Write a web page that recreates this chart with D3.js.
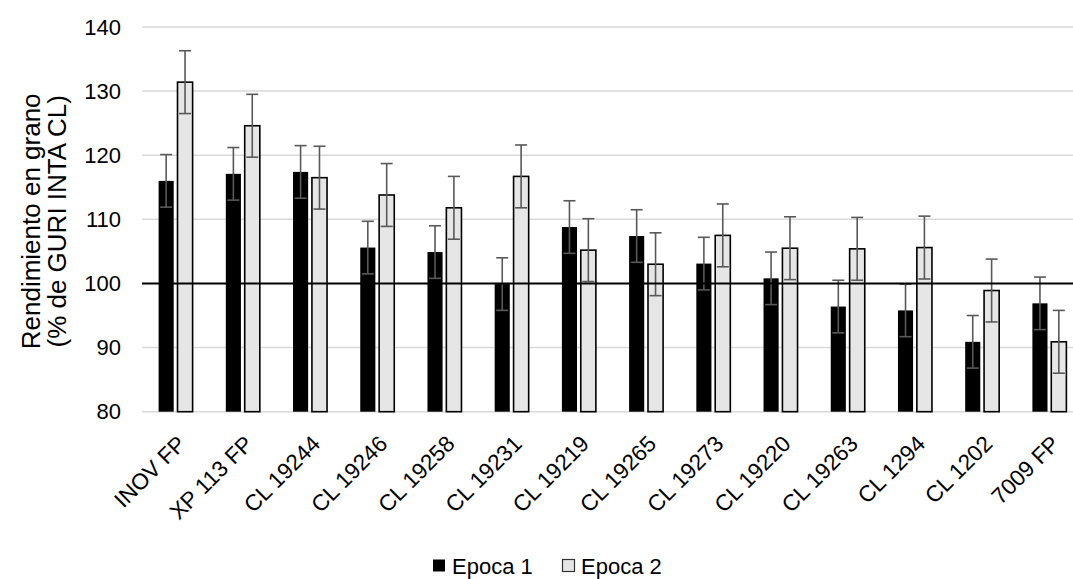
<!DOCTYPE html>
<html>
<head>
<meta charset="utf-8">
<script src="https://cdn.jsdelivr.net/npm/d3@7"></script>
<style>
  body { margin: 0; background: #fff; }
  text { font-family: "Liberation Sans", Arial, sans-serif; fill: #000; }
</style>
</head>
<body>
<div id="chart"></div>
<script>
var categories = ['INOV FP', 'XP 113 FP', 'CL 19244', 'CL 19246', 'CL 19258', 'CL 19231', 'CL 19219',
  'CL 19265', 'CL 19273', 'CL 19220', 'CL 19263', 'CL 1294', 'CL 1202', '7009 FP'];
var epoca1 = [116.0, 117.1, 117.4, 105.6, 104.9, 99.9, 108.8, 107.4, 103.1, 100.8, 96.4, 95.8, 90.9, 96.9];
var epoca2 = [131.4, 124.6, 116.5, 113.8, 111.8, 116.7, 105.2, 103.0, 107.5, 105.5, 105.4, 105.6, 98.9, 90.9];
var err1 = [4.1, 4.1, 4.1, 4.1, 4.1, 4.1, 4.1, 4.1, 4.1, 4.1, 4.1, 4.1, 4.1, 4.1];
var err2 = [4.9, 4.9, 4.9, 4.9, 4.9, 4.9, 4.9, 4.9, 4.9, 4.9, 4.9, 4.9, 4.9, 4.9];
var seriesNames = ['Epoca 1', 'Epoca 2'];
var yTicks = [80, 90, 100, 110, 120, 130, 140];
var refValue = 100;

var W = 1073, H = 579;
var pLeft = 142, pRight = 1083, pTop = 27, pBottom = 411.7;

var svg = d3.select('#chart').append('svg')
  .attr('width', W)
  .attr('height', H);

var x0 = d3.scaleBand().domain(categories).range([pLeft, pRight]).padding(0);
var x1 = d3.scaleBand().domain([0, 1]).range([0, 34]).paddingInner(0.2);
var y = d3.scaleLinear().domain([80, 140]).range([pBottom, pTop]);

// gridlines
svg.selectAll('line.grid')
  .data(yTicks)
  .enter().append('line')
  .attr('class', 'grid')
  .attr('x1', pLeft)
  .attr('x2', pRight)
  .attr('y1', function (d) { return y(d); })
  .attr('y2', function (d) { return y(d); })
  .attr('stroke', '#d9d9d9')
  .attr('stroke-width', 1.5);

// y axis labels
var yAxis = d3.axisLeft(y).tickValues(yTicks).tickSize(0).tickPadding(0);
var gy = svg.append('g')
  .attr('transform', 'translate(121,0)')
  .call(yAxis);
gy.select('.domain').remove();
gy.selectAll('text')
  .attr('font-size', '22px')
  .attr('fill', '#000')
  .style('font-family', '"Liberation Sans", Arial, sans-serif');

// rows of bars
var rows = categories.map(function (c, i) {
  return { cat: c, vals: [epoca1[i], epoca2[i]], errs: [err1[i], err2[i]] };
});

var groups = svg.selectAll('g.cat')
  .data(rows)
  .enter().append('g')
  .attr('class', 'cat')
  .attr('transform', function (d) {
    return 'translate(' + (x0(d.cat) + x0.bandwidth() / 2 - 17) + ',0)';
  });

groups.selectAll('rect')
  .data(function (d) { return d.vals; })
  .enter().append('rect')
  .attr('x', function (d, i) { return x1(i); })
  .attr('y', function (d) { return y(d); })
  .attr('width', x1.bandwidth())
  .attr('height', function (d) { return y(80) - y(d); })
  .attr('fill', function (d, i) { return i === 0 ? '#000' : '#e6e6e6'; })
  .attr('stroke', function (d, i) { return i === 0 ? 'none' : '#000'; })
  .attr('stroke-width', 1.6);

// reference line at 100
svg.append('line')
  .attr('x1', pLeft)
  .attr('x2', pRight)
  .attr('y1', y(refValue))
  .attr('y2', y(refValue))
  .attr('stroke', '#000')
  .attr('stroke-width', 2);

// error bars
var eb = groups.selectAll('g.err')
  .data(function (d) {
    return d.vals.map(function (v, i) { return { v: v, e: d.errs[i], i: i }; });
  })
  .enter().append('g')
  .attr('class', 'err')
  .attr('stroke', '#595959')
  .attr('stroke-width', 1.6);

eb.append('line')
  .attr('x1', function (d) { return x1(d.i) + x1.bandwidth() / 2; })
  .attr('x2', function (d) { return x1(d.i) + x1.bandwidth() / 2; })
  .attr('y1', function (d) { return y(d.v + d.e); })
  .attr('y2', function (d) { return y(d.v - d.e); });

[1, -1].forEach(function (s) {
  eb.append('line')
    .attr('x1', function (d) { return x1(d.i) + x1.bandwidth() / 2 - 6; })
    .attr('x2', function (d) { return x1(d.i) + x1.bandwidth() / 2 + 6; })
    .attr('y1', function (d) { return y(d.v + s * d.e); })
    .attr('y2', function (d) { return y(d.v + s * d.e); });
});

// x labels, rotated
svg.selectAll('text.xlab')
  .data(categories)
  .enter().append('text')
  .attr('class', 'xlab')
  .attr('font-size', '22.5px')
  .attr('text-anchor', 'end')
  .attr('dy', '0.35em')
  .attr('transform', function (d) {
    return 'translate(' + (x0(d) + x0.bandwidth() / 2 + 6) + ',' + (pBottom + 28) + ')rotate(-45)';
  })
  .text(function (d) { return d; });

// y title
var yt = svg.append('text')
  .attr('font-size', '26px')
  .attr('text-anchor', 'middle')
  .attr('transform', 'translate(40,' + ((pTop + pBottom) / 2 + 2) + ')rotate(-90)');
yt.append('tspan').attr('x', 0).attr('dy', 0).text('Rendimiento en grano');
yt.append('tspan').attr('x', 0).attr('dy', '1.0em').text('(% de GURI INTA CL)');

// legend
var legX = [433, 562];
var leg = svg.selectAll('g.leg')
  .data(seriesNames)
  .enter().append('g')
  .attr('class', 'leg')
  .attr('transform', function (d, i) { return 'translate(' + legX[i] + ',559)'; });
leg.append('rect')
  .attr('width', 12)
  .attr('height', 12)
  .attr('x', function (d, i) { return i === 0 ? 0 : 0.5; })
  .attr('y', 0.5)
  .attr('fill', function (d, i) { return i === 0 ? '#000' : '#e6e6e6'; })
  .attr('stroke', function (d, i) { return i === 0 ? 'none' : '#333'; })
  .attr('stroke-width', 1.2);
leg.append('text')
  .attr('x', 19)
  .attr('y', 7)
  .attr('dy', '0.35em')
  .attr('font-size', '22px')
  .text(function (d) { return d; });
</script>
</body>
</html>
